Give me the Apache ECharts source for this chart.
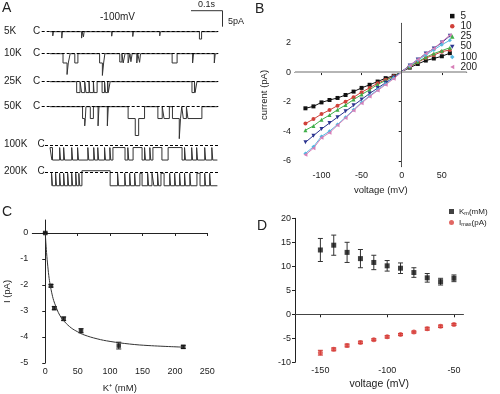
<!DOCTYPE html>
<html><head><meta charset="utf-8">
<script src="https://cdn.jsdelivr.net/npm/echarts@6/dist/echarts.min.js"></script>
<style>html,body{margin:0;padding:0;background:#fff}#c{width:500px;height:394px}</style>
</head><body><div id="c"></div>
<script>
// ---------------- DATA ----------------
// Panel A: single-channel events per trace, [start ms, end ms, level pA]
const traceNames = ['5K','10K','25K','50K','100K','200K'];
const traceBase = [0, 0, 0, 0, -4.7, -4.3];          // resting level of the trace (pA)
const trace5K = [[9,11,-1.3],[38,40,-2.0],[102,104,-2.0],[108,110,-1.6],[199,201,-1.4],[267,269,-1.5],[354,356,-1.3],[482,489,-2.3]];
const trace10K = [[42,55,-2.9],[55,59,-6.5],[59,65,-2.9],[80,90,-2.9],[160,169,-2.9],[169,173,-6.8],[173,177,-2.9],
  [225,232,-2.6],[236,242,-2.9],[252,258,-2.9],[261,265,-2.5],[280,283,-2.9],[289,292,-2.7],[394,410,-2.9],[460,463,-2.9],[530,533,-2.9]];
const trace25K = [[86,97,-3.4],[102,112,-3.4],[116,126,-3.4],[128,140,-3.4],[142,152,-3.4],[168,176,-3.4],[179,186,-3.4],[188,194,-3.4],[458,466,-3.4],[468,474,-3.4]];
const trace50K = [[105,112,-3.7],[112,114,-6.0],[114,116,-3.7],[130,140,-3.7],[155,158,-6.0],[185,188,-6.0],
  [252,275,-3.7],[275,286,-9.0],[286,305,-3.7],[348,362,-3.7],[368,385,-3.7],[395,417,-3.7],[417,421,-10.0],[421,425,-3.7],[430,440,-3.7],[445,490,-3.7]];
const trace100K = [[0,8,-0.8],[31,34,-0.8],[44,47,-0.8],[70,73,-0.8],[89,92,-0.8],[122,125,-0.8],[141,144,-0.8],[154,157,-0.8],[176,179,-0.8],[193,196,-0.8],
  [203,242,-0.8],[251,254,-0.8],[268,297,-0.8],[305,308,-0.8],[322,325,-0.8],[332,361,-0.8],[381,426,-0.8],[434,437,-0.8],[457,460,-0.8],[473,476,-0.8],[499,502,-0.8],[522,525,-0.8]];
const trace200K = [[5,8,-0.4],[18,21,-0.4],[31,34,-0.4],[44,47,-0.4],[57,60,-0.4],[70,73,-0.4],[83,86,-0.4],[93,96,-0.4],
  [103,194,0.4],[218,221,-0.4],[241,244,-0.4],[257,260,-0.4],[273,276,-0.4],[290,297,-0.4],[315,318,-0.4],[329,335,-0.4],[347,350,-0.4],[358,368,-0.4],
  [386,389,-0.4],[402,405,-0.4],[418,421,-0.4],[434,437,-0.4],[451,454,-0.4],[474,484,-0.4],[499,502,-0.4],[515,518,-0.4]];
const traceEvents = [trace5K, trace10K, trace25K, trace50K, trace100K, trace200K];

// Panel B: I-V curves
const voltB = [-120,-110,-100,-90,-80,-70,-60,-50,-40,-30,-20,-10,10,20,30,40,50,60];
const concB = ['5','10','25','50','100','200'];
const iv5   = [-2.45,-2.32,-2.05,-1.89,-1.75,-1.55,-1.32,-1.07,-0.86,-0.64,-0.41,-0.25,0.30,0.55,0.78,0.92,1.07,1.28];
const iv10  = [-3.48,-3.18,-2.84,-2.57,-2.27,-2.00,-1.70,-1.36,-1.07,-0.75,-0.52,-0.28,0.36,0.66,0.95,1.15,1.38,1.50];
const iv25  = [-3.93,-3.64,-3.23,-2.91,-2.55,-2.23,-1.86,-1.52,-1.20,-0.84,-0.57,-0.30,0.38,0.70,1.00,1.25,1.45,1.65];
const iv50  = [-4.75,-4.30,-3.85,-3.45,-3.05,-2.65,-2.25,-1.85,-1.45,-1.08,-0.72,-0.36,0.45,0.85,1.25,1.60,2.00,2.45];
const iv100 = [-5.50,-5.05,-4.35,-4.00,-3.55,-3.05,-2.55,-2.05,-1.60,-1.20,-0.80,-0.40,0.42,0.80,1.15,1.50,1.85,2.15];
const iv200 = [-5.60,-5.15,-4.45,-4.10,-3.60,-3.10,-2.60,-2.10,-1.65,-1.25,-0.85,-0.45,0.45,0.85,1.25,1.60,2.05,2.50];
const ivB = [iv5, iv10, iv25, iv50, iv100, iv200];

// Panel C: current vs K+
const kC = [0, 8.8, 13.9, 28.4, 55.2, 113.4, 212.9];
const iC = [0, -2.03, -2.89, -3.30, -3.76, -4.33, -4.38];
const eC = [0.03, 0.05, 0.06, 0.07, 0.08, 0.13, 0.06];
const fitK = [0, 2, 4, 6, 8, 10, 13, 16, 20, 25, 30, 40, 50, 60, 80, 100, 130, 160, 213];
const fitI = [0, -0.75, -1.3, -1.75, -2.05, -2.3, -2.6, -2.8, -3.05, -3.27, -3.42, -3.65, -3.8, -3.92, -4.07, -4.17, -4.27, -4.33, -4.39];

// Panel D: Km and Imax vs voltage
const vD = [-150,-140,-130,-120,-110,-100,-90,-80,-70,-60,-50];
const km = [13.4, 14.4, 12.9, 11.6, 10.8, 10.1, 9.6, 8.7, 7.6, 6.8, 7.5];
const kmErr = [2.4, 2.1, 2.1, 1.9, 1.5, 1.1, 1.1, 1.0, 0.9, 0.7, 0.7];
const imax = [-8.0, -7.3, -6.5, -5.85, -5.3, -4.7, -4.2, -3.7, -3.0, -2.5, -2.1];
const imaxErr = [0.5, 0.3, 0.3, 0.25, 0.2, 0.25, 0.2, 0.2, 0.3, 0.25, 0.2];

// Tick labels
const ticksBx = [-100, -50, 0, 50];
const ticksBy = [-6, -4, -2, 0, 2];
const ticksCx = [0, 50, 100, 150, 200, 250];
const ticksCy = [-5, -4, -3, -2, -1, 0];
const ticksDx = [-150, -100, -50];
const ticksDy = [-10, -5, 0, 5, 10, 15, 20];

// ---------------- LAYOUT / STYLE ----------------
const FONT = "'Liberation Sans', Arial, sans-serif";
const TXT = '#222';
const rowBaseY = [31.7, 53.7, 81.7, 106.7, 145, 172];
const rowLeft = [41.7, 41.7, 41.7, 41.7, 45, 45];
const PX_PER_MS = 31 / 100;     // 0.1 s scale bar = 31 px
const PX_PER_PA = 16 / 5;       // 5 pA scale bar = 16 px
const traceX0 = 50, traceX1 = 218.3;
const colorsB = ['#111111', '#d0413a', '#3fae49', '#2c3590', '#55b8e0', '#d77fb8'];
const symbolsB = ['rect', 'circle', 'triangle', 'path://M0,0L10,0L5,9Z', 'diamond', 'path://M10,0L10,10L1,5Z'];

function buildTrace(events, base, t0, t1) {
  const pts = [[t0, base]];
  for (let i = 0; i < events.length; i++) {
    const [s, e, lvl] = events[i];
    const prev = events[i - 1], next = events[i + 1];
    if (!(prev && prev[1] === s)) pts.push([s, base]);
    pts.push([s, lvl], [e, lvl]);
    if (!(next && next[0] === e)) pts.push([e, base]);
  }
  pts.push([t1, base]);
  return pts;
}

function axisCommon(extra) {
  return Object.assign({
    axisLine: { show: true, lineStyle: { color: '#222', width: 1 } },
    axisTick: { show: true, inside: false, length: 3, lineStyle: { color: '#222' } },
    axisLabel: { color: TXT, fontFamily: FONT, fontSize: 9, margin: 4 },
    splitLine: { show: false },
    nameTextStyle: { color: TXT, fontFamily: FONT, fontSize: 9.5 }
  }, extra);
}
function withTicks(ax, vals) {
  ax.axisLabel.customValues = vals;
  ax.axisTick.customValues = vals;
  return ax;
}
function errRender(color) {
  return function (params, api) {
    const x = api.value(0), y = api.value(1), e = api.value(2);
    const p1 = api.coord([x, y + e]), p2 = api.coord([x, y - e]);
    const w = 2.5;
    const st = { stroke: color, lineWidth: 1 };
    return { type: 'group', children: [
      { type: 'line', shape: { x1: p1[0], y1: p1[1], x2: p2[0], y2: p2[1] }, style: st },
      { type: 'line', shape: { x1: p1[0] - w, y1: p1[1], x2: p1[0] + w, y2: p1[1] }, style: st },
      { type: 'line', shape: { x1: p2[0] - w, y1: p2[1], x2: p2[0] + w, y2: p2[1] }, style: st }
    ]};
  };
}

const grids = [], xAxes = [], yAxes = [], series = [], graphics = [];

// ---- Panel A ----
const yMinA = -11, yMaxA = 2;
traceNames.forEach((name, i) => {
  const left = rowLeft[i];
  const top = rowBaseY[i] - yMaxA * PX_PER_PA;
  grids.push({ left: left, top: top, width: traceX1 - left, height: (yMaxA - yMinA) * PX_PER_PA });
  xAxes.push({ gridIndex: i, type: 'value', show: false, min: (left - traceX0) / PX_PER_MS, max: (traceX1 - traceX0) / PX_PER_MS });
  yAxes.push({ gridIndex: i, type: 'value', show: false, min: yMinA, max: yMaxA });
  const t0 = i >= 4 ? 6 : 0;
  series.push({
    type: 'line', xAxisIndex: i, yAxisIndex: i, symbol: 'none', animation: false,
    data: buildTrace(traceEvents[i], traceBase[i], t0, 540),
    lineStyle: { color: '#333', width: 1 },
    markLine: { silent: true, symbol: 'none', label: { show: false },
      lineStyle: { type: [3, 2], color: '#000', width: 1 }, data: [{ yAxis: 0 }] }
  });
  graphics.push({ type: 'text', left: 4, top: rowBaseY[i] - 5.5, style: { text: name, font: '10px ' + FONT, fill: TXT } });
  graphics.push({ type: 'text', left: i >= 4 ? 37.5 : 33, top: rowBaseY[i] - 5.5, style: { text: 'C', font: '10px ' + FONT, fill: TXT } });
});
graphics.push({ type: 'text', left: 2, top: 1, style: { text: 'A', font: '14px ' + FONT, fill: TXT } });
graphics.push({ type: 'text', left: 100, top: 12, style: { text: '-100mV', font: '10px ' + FONT, fill: TXT } });
graphics.push({ type: 'text', left: 198, top: 0, style: { text: '0.1s', font: '9px ' + FONT, fill: TXT } });
graphics.push({ type: 'text', left: 228, top: 17, style: { text: '5pA', font: '9px ' + FONT, fill: TXT } });
graphics.push({ type: 'polyline', shape: { points: [[191, 10.7], [222.5, 10.7], [222.5, 26.7]] }, style: { stroke: '#333', lineWidth: 1, fill: null } });
graphics.push({ type: 'text', left: 255, top: 2, style: { text: 'B', font: '14px ' + FONT, fill: TXT } });
graphics.push({ type: 'text', left: 2, top: 205, style: { text: 'C', font: '14px ' + FONT, fill: TXT } });
graphics.push({ type: 'text', left: 257, top: 219, style: { text: 'D', font: '14px ' + FONT, fill: TXT } });

// ---- Panel B ----
const gB = grids.length;
grids.push({ left: 295, top: 23.3, right: 33.3, bottom: 227.3 });
xAxes.push(withTicks(axisCommon({ gridIndex: gB, type: 'value', min: -133, max: 81, name: 'voltage (mV)', nameLocation: 'middle', nameGap: 19 }), ticksBx));
yAxes.push(withTicks(axisCommon({ gridIndex: gB, type: 'value', min: -6.4, max: 3.3, name: 'current (pA)', nameLocation: 'middle', nameGap: 26 }), ticksBy));
concB.forEach((c, k) => {
  const s = {
    type: 'line', name: c, xAxisIndex: gB, yAxisIndex: gB, animation: false,
    data: voltB.map((v, j) => [v, ivB[k][j]]),
    symbol: symbolsB[k], symbolSize: 4, showAllSymbol: true,
    itemStyle: { color: colorsB[k] }, lineStyle: { color: colorsB[k], width: 1 }
  };
  if (k === 0) {
    s.markLine = { silent: true, symbol: 'none', label: { show: false }, animation: false,
      data: [
        { yAxis: 0, lineStyle: { color: '#b5b5b5', width: 2, type: 'solid' } },
        { xAxis: 0, lineStyle: { color: '#555', width: 1, type: 'solid' } }
      ] };
  }
  series.push(s);
});

// ---- Panel C ----
const gC = grids.length;
grids.push({ left: 32.3, top: 220, right: 292.7, bottom: 30.7 });
xAxes.push(withTicks(axisCommon({ gridIndex: gC, type: 'value', min: -20, max: 250, name: 'K\u207A (mM)', nameLocation: 'middle', nameGap: 20 }), ticksCx));
yAxes.push(withTicks(axisCommon({ gridIndex: gC, type: 'value', min: -5, max: 0.5, name: 'I (pA)', nameLocation: 'middle', nameGap: 20 }), ticksCy));
series.push({ type: 'line', xAxisIndex: gC, yAxisIndex: gC, data: fitK.map((k, j) => [k, fitI[j]]), smooth: 0.4, symbol: 'none', animation: false,
  lineStyle: { color: '#333', width: 1 } });
series.push({ type: 'custom', xAxisIndex: gC, yAxisIndex: gC, renderItem: errRender('#222'), encode: { x: 0, y: 1 }, animation: false,
  data: kC.map((k, j) => [k, iC[j], eC[j]]) });
series.push({ type: 'scatter', xAxisIndex: gC, yAxisIndex: gC, data: kC.map((k, j) => [k, iC[j]]), symbol: 'rect', symbolSize: 4.5, animation: false,
  itemStyle: { color: '#111' } });

// ---- Panel D ----
const gD = grids.length;
grids.push({ left: 295, top: 218.3, right: 36.7, bottom: 31.7 });
xAxes.push(withTicks(axisCommon({ gridIndex: gD, type: 'value', min: -169, max: -43, name: 'voltage (mV)', nameLocation: 'middle', nameGap: 16,
  nameTextStyle: { color: TXT, fontFamily: FONT, fontSize: 10.5 } }), ticksDx));
yAxes.push(withTicks(axisCommon({ gridIndex: gD, type: 'value', min: -10, max: 20 }), ticksDy));
series.push({ type: 'custom', xAxisIndex: gD, yAxisIndex: gD, renderItem: errRender('#333'), encode: { x: 0, y: 1 }, animation: false,
  data: vD.map((v, j) => [v, km[j], kmErr[j]]) });
series.push({ type: 'custom', xAxisIndex: gD, yAxisIndex: gD, renderItem: errRender('#c9302c'), encode: { x: 0, y: 1 }, animation: false,
  data: vD.map((v, j) => [v, imax[j], imaxErr[j]]) });
series.push({ type: 'scatter', name: 'Km', xAxisIndex: gD, yAxisIndex: gD, data: vD.map((v, j) => [v, km[j]]), symbol: 'rect', symbolSize: 5, animation: false,
  itemStyle: { color: '#111' },
  markLine: { silent: true, symbol: 'none', label: { show: false }, animation: false, data: [{ yAxis: 0 }], lineStyle: { color: '#444', width: 1, type: 'solid' } } });
series.push({ type: 'scatter', name: 'Imax', xAxisIndex: gD, yAxisIndex: gD, data: vD.map((v, j) => [v, imax[j]]), symbol: 'circle', symbolSize: 5, animation: false,
  itemStyle: { color: '#d9413c' } });

const option = {
  animation: false,
  textStyle: { fontFamily: FONT },
  grid: grids, xAxis: xAxes, yAxis: yAxes, series: series, graphic: graphics,
  legend: [
    { data: concB.map((c, k) => ({ name: c, icon: symbolsB[k] })), orient: 'vertical', left: 450, top: 11, padding: 0,
      itemWidth: 4.5, itemHeight: 4.5, itemGap: 0, textStyle: { color: TXT, fontFamily: FONT, fontSize: 10, lineHeight: 10.2, padding: [0, 0, 0, 1] } },
    { data: [{ name: 'Km', icon: 'rect' }, { name: 'Imax', icon: 'circle' }], orient: 'vertical', left: 449, top: 206, padding: 0,
      itemWidth: 5, itemHeight: 5, itemGap: 1,
      formatter: n => n === 'Km' ? 'K{s|m}(mM)' : 'I{s|max}(pA)',
      textStyle: { color: TXT, fontFamily: FONT, fontSize: 8, lineHeight: 9, rich: { s: { fontSize: 5.5, lineHeight: 9, verticalAlign: 'bottom', padding: [4, 0, 0, 0] } } } }
  ]
};
const chart = echarts.init(document.getElementById('c'), null, { renderer: 'canvas' });
chart.setOption(option);
</script></body></html>
